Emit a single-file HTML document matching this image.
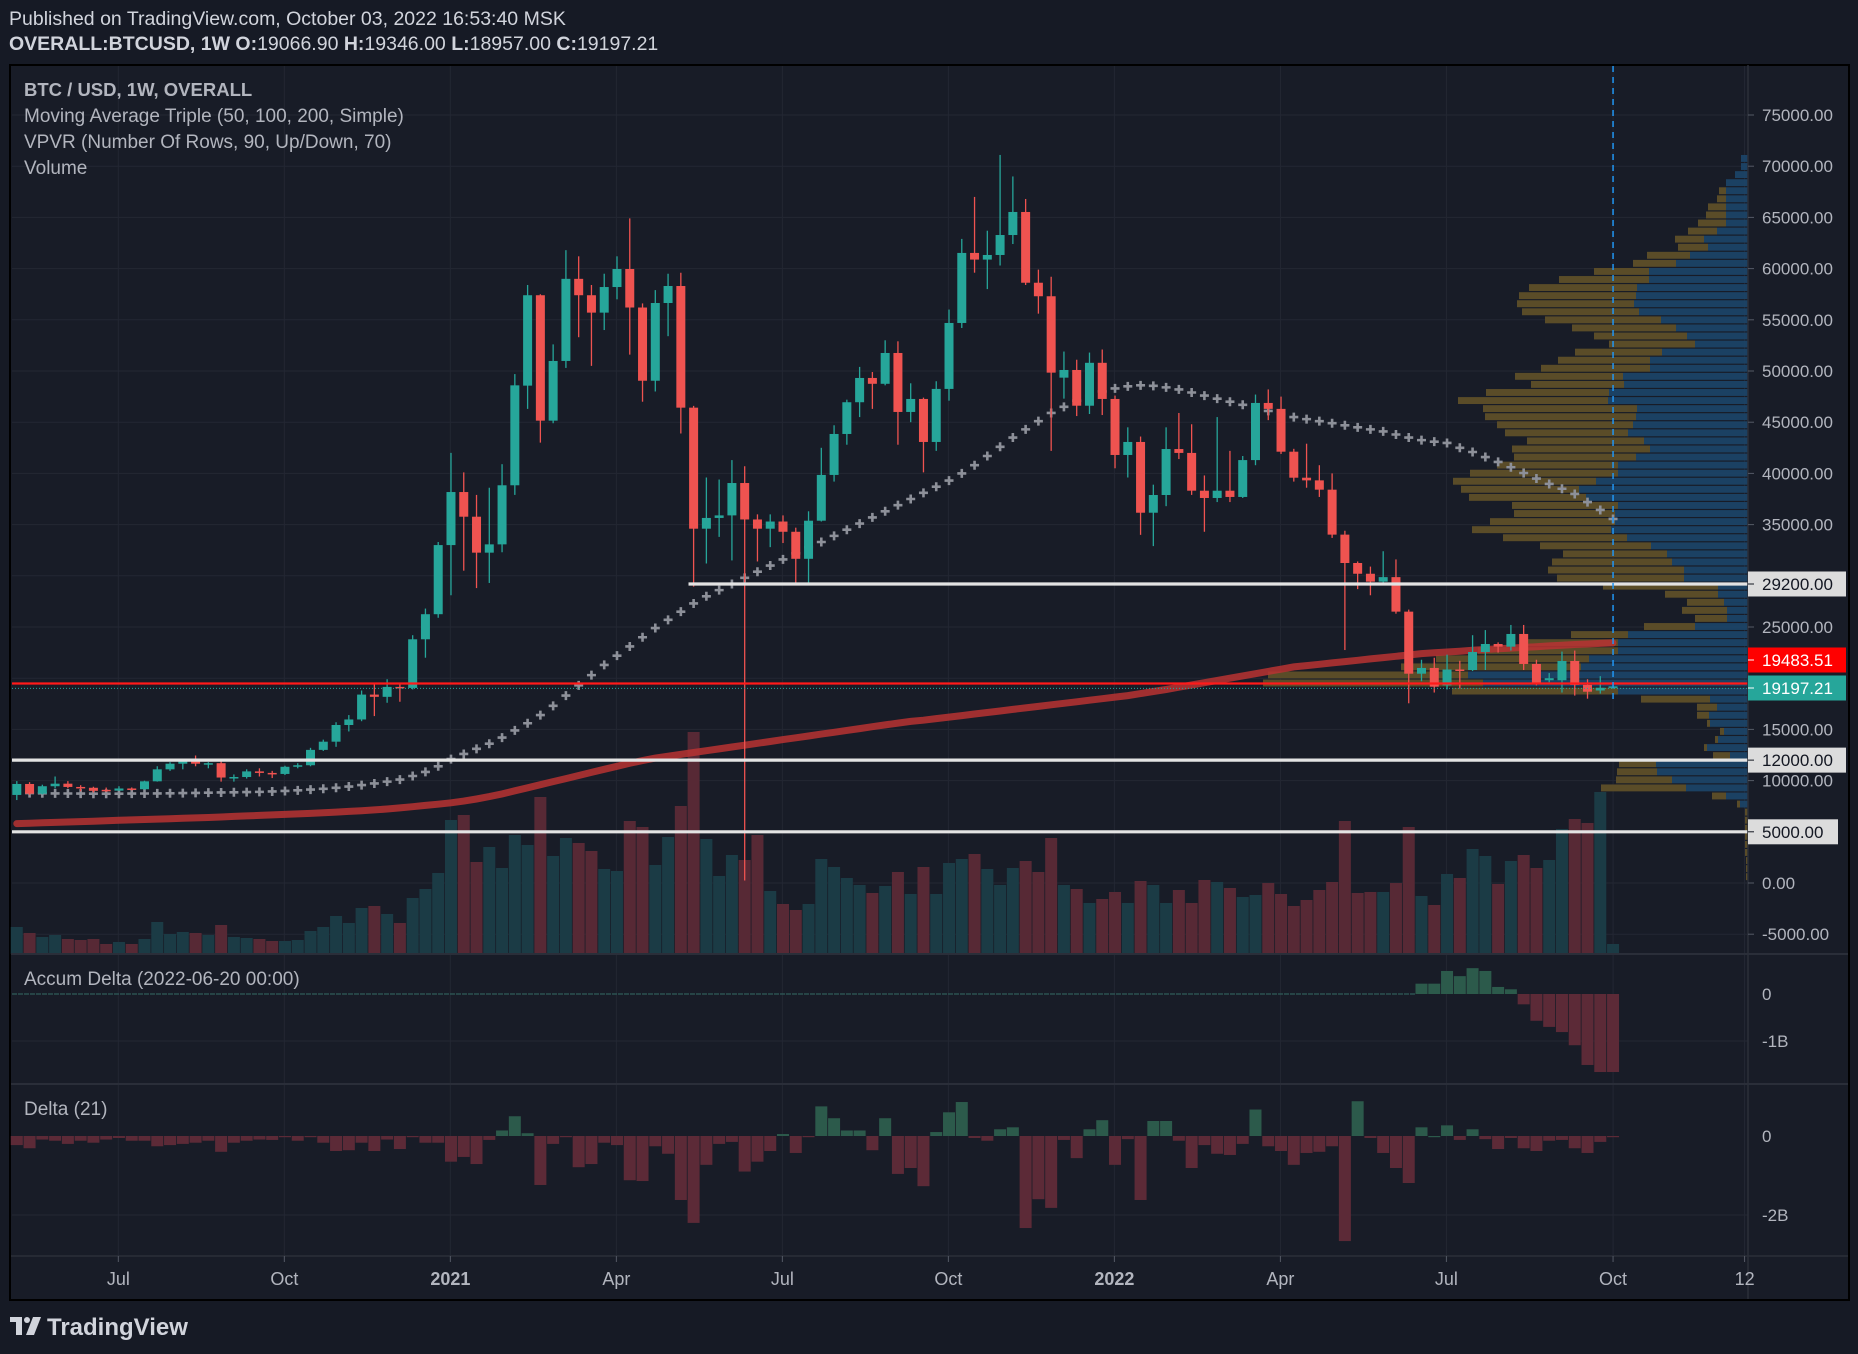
<!DOCTYPE html>
<html><head><meta charset="utf-8">
<style>
html,body{margin:0;padding:0;background:#161a25;}
body{width:1858px;height:1354px;overflow:hidden;font-family:"Liberation Sans",sans-serif;}
svg{display:block}
</style></head>
<body>
<svg id="chart" width="1858" height="1354" viewBox="0 0 1858 1354" xmlns="http://www.w3.org/2000/svg" font-family="Liberation Sans, sans-serif">
<rect x="0" y="0" width="1858" height="1354" fill="#161a25"/>
<text x="9" y="25" font-size="19.5" fill="#d1d4dc">Published on TradingView.com, October 03, 2022 16:53:40 MSK</text>
<text x="9" y="50" font-size="19.5" fill="#d1d4dc"><tspan font-weight="bold">OVERALL:BTCUSD, 1W  O:</tspan>19066.90 <tspan font-weight="bold">H:</tspan>19346.00 <tspan font-weight="bold">L:</tspan>18957.00 <tspan font-weight="bold">C:</tspan>19197.21</text>
<rect x="10" y="65" width="1839" height="1235" fill="#181c27" stroke="#000" stroke-width="2"/>
<g id="grid"></g>
<g id="volume"></g>
<g id="vpvr"></g>
<g id="ma"></g>
<g id="candles"></g>
<g id="levels"></g>
<g id="accum"></g>
<g id="delta"></g>
<g id="axes"></g>
<text x="24" y="96" font-size="18.5" font-weight="bold" fill="#b2b5be">BTC / USD, 1W, OVERALL</text>
<text x="24" y="122" font-size="19" fill="#b2b5be">Moving Average Triple (50, 100, 200, Simple)</text>
<text x="24" y="148" font-size="19" fill="#b2b5be">VPVR (Number Of Rows, 90, Up/Down, 70)</text>
<text x="24" y="174" font-size="19" fill="#b2b5be">Volume</text>
<text x="24" y="985" font-size="19" fill="#b2b5be">Accum Delta (2022-06-20 00:00)</text>
<text x="24" y="1115" font-size="19" fill="#b2b5be">Delta (21)</text>
<g>
<rect x="10" y="1317" width="12" height="5" fill="#d1d4dc"/>
<rect x="16" y="1317" width="6" height="18" fill="#d1d4dc"/>
<circle cx="27" cy="1320" r="3" fill="#d1d4dc"/>
<polygon points="33,1317 41,1317 34,1335 26,1335" fill="#d1d4dc"/>
<text x="47" y="1335" font-size="24" font-weight="bold" fill="#d1d4dc">TradingView</text>
</g>
</svg>
<script>
const O=[8600,9670,8720,9450,9700,9380,9300,9100,9020,9230,9160,9930,11100,11650,11900,11650,11700,10300,10350,10900,10750,10650,11350,11500,13000,13800,15430,15970,18400,18180,19150,19050,23800,26250,33000,38180,35770,32260,33070,38840,48570,57400,45150,50980,59000,57400,55700,58200,59960,56200,49050,56640,58300,46420,34600,35650,35900,39060,35500,34600,35300,34300,31660,35380,39850,43850,46950,49320,48750,51760,46000,47270,43070,48250,54690,61530,60880,61330,63280,65530,58620,57300,49350,50100,46610,50800,47270,41800,43070,36160,37890,42380,42000,38310,37600,38310,37700,41300,46880,46300,42120,39580,39320,38410,34020,31250,30200,29430,29870,26500,20440,21000,19300,20850,20800,22560,23340,23080,24320,21390,19800,19800,21680,19350,18800,19067];
const C=[9670,8720,9450,9700,9380,9300,9000,9020,9230,9160,9930,11100,11650,11900,11650,11700,10300,10350,10900,10750,10650,11350,11500,13000,13800,15430,15970,18400,18180,19150,19050,23800,26250,33000,38180,35770,32260,33070,38840,48600,57400,45150,50980,59000,57400,55700,58200,59960,56200,49050,56640,58300,46420,34600,35650,35900,39060,35500,34600,35300,34300,31660,35380,39850,43850,46950,49320,48750,51760,46000,47270,43070,48250,54690,61530,60880,61330,63280,65530,58620,57300,49840,50100,46610,50800,47270,41800,43070,36160,37890,42380,42000,38310,37600,38310,37700,41300,46880,46300,42120,39580,39320,38410,34020,31250,30200,29430,29870,26500,20440,21000,19170,20850,20800,22560,23340,23080,24320,21390,19470,20000,21680,19350,18680,19070,19197];
const H=[9950,9850,9600,10400,9950,9550,9400,9320,9450,9330,9990,11400,11800,12100,12450,11800,12050,10600,11100,11200,10950,11450,11700,13200,14000,15700,16400,18800,19400,19900,19400,24200,26800,33300,42000,40100,37900,38600,40900,49700,58400,57500,52600,61800,61200,58400,59500,61200,64900,56600,57900,59500,59600,46600,39600,39400,41300,40700,36000,36000,35900,34700,36300,42500,44700,47200,50400,49900,53000,52900,48800,47400,49000,56000,62900,67000,63700,71100,69000,66800,59900,59200,51900,51100,51800,52100,47600,44500,43600,38900,44500,45900,44800,39800,45500,42200,41700,47700,48200,47500,42400,42900,40800,40000,34400,31400,30900,32400,31600,26700,21800,22000,22300,21700,24200,24700,23500,25200,25200,21800,20500,22600,22700,19900,20200,19346];
const L=[8100,8600,8650,9250,9250,8950,8850,8900,9000,9050,9120,9900,10950,11100,11400,11200,9900,9900,10200,10400,10250,10550,11200,11400,12900,13300,14800,15800,16300,17600,17700,18900,22000,25900,28100,30500,28800,29300,32300,37900,46300,43000,44900,50300,53300,50500,54000,57000,51600,47000,48000,53400,43900,28940,31200,33800,31500,250,31400,32800,33200,29300,29300,35300,39200,42800,45500,46300,48600,42800,45000,40100,42200,47100,54200,59600,58000,60300,62400,58400,55600,42200,47300,45600,45800,45700,40500,39600,34000,32900,36800,41400,37900,34300,37200,37200,37600,40800,45200,41900,39200,38600,37700,33700,22750,28700,28100,29300,26300,17550,19700,18600,18900,19000,20700,20800,22500,22700,20800,19300,19600,18600,18300,18000,18500,18957];
const volume=[27,21,17,19,15,14,15,10,12,10,15,32,20,22,21,19,29,17,16,15,13,13,14,23,27,38,31,46,48,40,31,56,65,81,134,139,92,107,86,119,109,157,98,116,111,103,85,83,133,127,89,117,148,222,115,78,99,94,119,63,50,44,50,95,87,76,69,61,68,82,60,87,60,91,95,100,85,69,86,93,82,116,69,65,51,55,62,51,73,69,51,64,51,74,72,66,57,59,71,60,48,54,64,72,133,61,62,62,71,127,58,49,80,76,105,98,70,93,99,86,94,125,135,131,162,10];
const ma200=[5800,5840,5880,5920,5960,6000,6040,6080,6120,6160,6200,6240,6280,6320,6360,6400,6450,6500,6550,6600,6650,6700,6750,6800,6860,6920,6990,7060,7140,7230,7330,7450,7580,7700,7830,8000,8200,8440,8700,9000,9300,9600,9900,10200,10500,10800,11100,11400,11700,11950,12200,12380,12560,12740,12920,13100,13280,13460,13640,13820,14000,14180,14360,14540,14720,14900,15080,15260,15440,15620,15780,15900,16050,16200,16350,16500,16650,16800,16950,17100,17250,17400,17550,17700,17850,18000,18150,18300,18500,18700,18900,19120,19340,19560,19780,20000,20220,20440,20660,20880,21100,21230,21360,21490,21620,21750,21880,22010,22140,22270,22400,22480,22560,22640,22720,22800,22870,22940,23010,23080,23150,23220,23290,23340,23400,23450];
const ma100=[null,8780,8760,8750,8740,8730,8720,8720,8720,8730,8740,8750,8760,8780,8800,8820,8840,8860,8880,8900,8940,8990,9050,9120,9200,9300,9420,9560,9720,9900,10100,10450,10850,11400,12100,12600,13100,13600,14200,14900,15600,16400,17300,18300,19300,20300,21300,22200,23100,24000,24900,25700,26500,27300,28000,28600,29200,29800,30400,31000,31600,32200,32800,33300,33900,34500,35100,35700,36300,36900,37500,38100,38700,39300,40000,40800,41700,42600,43500,44300,45100,45900,46500,47100,47600,48000,48300,48500,48600,48550,48400,48200,47900,47600,47300,47000,46700,46400,46100,45800,45500,45300,45100,44900,44700,44500,44300,44100,43800,43500,43250,43100,42970,42500,42090,41600,41120,40600,40040,39500,38970,38500,37990,37200,36430,35550];
const accumDelta=[0.22,0.22,0.49,0.38,0.55,0.49,0.15,0.10,-0.22,-0.57,-0.70,-0.81,-1.09,-1.51,-1.66,-1.66];
const accumStart=110;
const delta=[-0.23,-0.31,-0.09,-0.12,-0.2,-0.12,-0.17,-0.09,-0.05,-0.12,-0.12,-0.26,-0.23,-0.2,-0.17,-0.12,-0.4,-0.17,-0.12,-0.09,-0.1,-0.02,-0.12,-0.03,-0.17,-0.38,-0.36,-0.17,-0.38,-0.09,-0.33,-0.01,-0.17,-0.17,-0.65,-0.53,-0.71,-0.1,0.14,0.5,0.07,-1.24,-0.2,-0.03,-0.79,-0.71,-0.17,-0.23,-1.12,-1.14,-0.26,-0.45,-1.62,-2.2,-0.73,-0.2,-0.15,-0.9,-0.65,-0.38,0.05,-0.43,-0.03,0.75,0.45,0.14,0.14,-0.36,0.45,-0.96,-0.81,-1.27,0.1,0.6,0.86,-0.05,-0.12,0.17,0.22,-2.33,-1.6,-1.82,-0.1,-0.56,0.17,0.4,-0.73,-0.08,-1.62,0.38,0.38,-0.12,-0.81,-0.23,-0.45,-0.48,-0.2,0.67,-0.26,-0.38,-0.73,-0.43,-0.4,-0.26,-2.66,0.88,-0.05,-0.43,-0.81,-1.19,0.22,0,0.27,-0.1,0.17,-0.08,-0.33,-0.05,-0.31,-0.38,-0.12,-0.1,-0.31,-0.43,-0.15,-0.03];
const vpUp=[7,7,13,22,22,22,22,22,22,31,44,40,58,72,99,99,111,112,114,109,87,72,61,53,86,98,98,125,124,139,140,111,112,115,120,104,98,112,130,130,152,169,162,130,133,133,137,121,97,81,76,64,64,30,30,24,21,21,53,120,130,130,159,167,280,265,130,38,31,39,38,24,30,41,18,92,91,76,62,22,8,0,0,0,0,0,0,0,0,0];
const vpDown=[0,0,0,0,7,9,18,20,28,29,29,30,43,43,55,90,108,117,117,117,116,104,93,86,87,92,109,108,93,123,150,154,151,136,123,117,138,122,121,148,143,118,117,106,101,125,139,124,111,104,120,136,127,115,53,37,45,32,51,57,90,140,153,180,200,220,166,69,20,12,3,4,3,3,17,37,40,56,85,14,3,3,3,3,3,3,3,2,2,2];
const priceTicks=[75000,70000,65000,60000,55000,50000,45000,40000,35000,25000,15000,10000,0,-5000];
const timeLabels=["Jul","Oct","2021","Apr","Jul","Oct","2022","Apr","Jul","Oct","12"];
const timeWeeks=[7.95,20.95,33.95,46.95,59.95,72.95,85.95,98.95,111.95,125,135.3];
const levelPrices=[29200,12000,5000];
const redLine=19483.51, lastPrice=19197.21;

const NS="http://www.w3.org/2000/svg";
function mk(tag,attrs,parent){const e=document.createElementNS(NS,tag);for(const k in attrs)e.setAttribute(k,attrs[k]);parent.appendChild(e);return e;}
const X0=16.8, DX=12.77, PL=12, PR=1748;
const xOf=i=>X0+DX*i;
const yP=p=>883-p*51.2/5000;
const yV=v=>954-v;
const yA=b=>994-b*47;
const yD=b=>1136-b*39.5;
const G=id=>document.getElementById(id);

const grid=G('grid');
priceTicks.concat([30000,20000,5000]).forEach(p=>{const l=mk('line',{x1:PL,x2:PR,y1:yP(p),y2:yP(p),stroke:'#232733','stroke-width':1},grid);});
[1041,1215].forEach(y=>mk('line',{x1:PL,x2:PR,y1:y,y2:y,stroke:'#232733','stroke-width':1},grid));
timeWeeks.forEach(w=>{const l=mk('line',{x1:xOf(w),x2:xOf(w),y1:66,y2:1256,stroke:'#232733','stroke-width':1},grid);});

const vg=G('volume');
volume.forEach((v,i)=>{const up=C[i]>=O[i];const r=mk('rect',{x:xOf(i)-6,y:yV(v),width:12,height:v,fill:up?'#1b3b45':'#572935'},vg);});

const vp=G('vpvr');
vpUp.forEach((u,k)=>{const y=155+8.07*k;const d=vpDown[k];
 if(u>0){const r=mk('rect',{x:PR-u,y:y,width:u,height:6.9,fill:'#1c4468','fill-opacity':0.92},vp);}
 if(d>0){const r=mk('rect',{x:PR-u-d,y:y,width:d,height:6.9,fill:'#5e4f28','fill-opacity':0.95},vp);}
});

const mg=G('ma');
let pts=ma200.map((v,i)=>xOf(i).toFixed(1)+','+yP(v).toFixed(1)).join(' ');
const m2=mk('polyline',{points:pts,fill:'none',stroke:'#b83232','stroke-opacity':0.85,'stroke-width':7,'stroke-linecap':'round'},mg);

ma100.forEach((v,i)=>{if(v==null)return;const x=xOf(i),y=yP(v);
 const p=mk('path',{d:`M${x-4.5},${y}H${x+4.5}M${x},${y-4.5}V${y+4.5}`,stroke:'#8d9099','stroke-width':2.6},mg);
 });

const cg=G('candles');
O.forEach((o,i)=>{const c=C[i];const up=c>=o;const col=up?'#26a69a':'#ef5350';const x=xOf(i);
 const w=mk('line',{x1:x,x2:x,y1:yP(H[i]),y2:yP(L[i]),stroke:col,'stroke-width':1.3},cg);
 
 const t=Math.min(yP(o),yP(c)),b=Math.max(yP(o),yP(c));
 const r=mk('rect',{x:x-4.5,y:t,width:9,height:Math.max(b-t,1.5),fill:col},cg);
 });

const lg=G('levels');
levelPrices.forEach((p,k)=>{const x1=k===0?xOf(52.6):PL;const l=mk('line',{x1:x1,x2:PR,y1:yP(p),y2:yP(p),stroke:'#e3e3e3','stroke-width':3.2},lg);});
const rl=mk('line',{x1:PL,x2:PR,y1:yP(redLine),y2:yP(redLine),stroke:'#ff1a1a','stroke-width':2.2},lg);

const pl=mk('line',{x1:PL,x2:PR,y1:yP(lastPrice)+2,y2:yP(lastPrice)+2,stroke:'#26a69a','stroke-width':1,'stroke-dasharray':'1 2'},lg);

const vl=mk('line',{x1:xOf(125),x2:xOf(125),y1:66,y2:700,stroke:'#2196f3','stroke-width':1.5,'stroke-dasharray':'6 5'},lg);


const ag=G('accum');
const zl=mk('line',{x1:PL,x2:xOf(accumStart)-6,y1:994,y2:994,stroke:'#2e5b5a','stroke-width':1.2,'stroke-dasharray':'5 1'},ag);

accumDelta.forEach((v,k)=>{const i=accumStart+k;const y0=yA(0),y1=yA(v);
 const r=mk('rect',{x:xOf(i)-6,y:Math.min(y0,y1),width:12,height:Math.max(Math.abs(y1-y0),1),fill:v>=0?'#2c5a4b':'#5c2a37'},ag);
 });

const dg=G('delta');
delta.forEach((v,i)=>{const y0=yD(0),y1=yD(v);
 const r=mk('rect',{x:xOf(i)-6,y:Math.min(y0,y1),width:12,height:Math.max(Math.abs(y1-y0),1.2),fill:v>=0?'#2c5a4b':'#5c2a37'},dg);
 });

const ax=G('axes');
mk('line',{x1:PR,x2:PR,y1:65,y2:1299,stroke:'#2a2e39','stroke-width':1.5},ax);
[954,1084].forEach(y=>{const l=mk('line',{x1:11,x2:1848,y1:y,y2:y,stroke:'#2a2e39','stroke-width':2},ax);});
mk('line',{x1:11,x2:1848,y1:1256,y2:1256,stroke:'#2a2e39','stroke-width':1.5},ax);
priceTicks.forEach(p=>{const y=yP(p);mk('line',{x1:PR,x2:PR+6,y1:y,y2:y,stroke:'#555a66','stroke-width':1},ax);
 const t=mk('text',{x:1762,y:y+6,'font-size':17,fill:'#b2b5be'},ax);t.textContent=p.toFixed(2);
 });
function box(y,w,bg,fg,txt,name){const r=mk('rect',{x:PR,y:y-12.5,width:w,height:25,fill:bg},ax);
 mk('line',{x1:PR,x2:PR+6,y1:y,y2:y,stroke:fg,'stroke-width':1},ax);
 const t=mk('text',{x:1762,y:y+6,'font-size':17,fill:fg},ax);t.textContent=txt;}
box(yP(29200),98,'#dcdcdc','#131722','29200.00','level-29200-label');
box(yP(12000),98,'#dcdcdc','#131722','12000.00','level-12000-label');
box(yP(5000),90,'#dcdcdc','#131722','5000.00','level-5000-label');
box(660,98,'#ff0000','#ffffff','19483.51','red-line-label');
box(688,98,'#26a69a','#ffffff','19197.21','last-price-label');
[[0,'0'],[-1,'-1B']].forEach(([v,s])=>{const t=mk('text',{x:1762,y:yA(v)+6,'font-size':17,fill:'#b2b5be'},ax);t.textContent=s;});
[[0,'0'],[-2,'-2B']].forEach(([v,s])=>{const t=mk('text',{x:1762,y:yD(v)+6,'font-size':17,fill:'#b2b5be'},ax);t.textContent=s;});
timeLabels.forEach((s,k)=>{const x=xOf(timeWeeks[k]);mk('line',{x1:x,x2:x,y1:1256,y2:1262,stroke:'#555a66','stroke-width':1},ax);
 const t=mk('text',{x:x,y:1285,'font-size':18,fill:'#b2b5be','text-anchor':'middle','font-weight':/^\d{4}$/.test(s)?'bold':'normal'},ax);t.textContent=s;
 });
</script>
</body></html>
